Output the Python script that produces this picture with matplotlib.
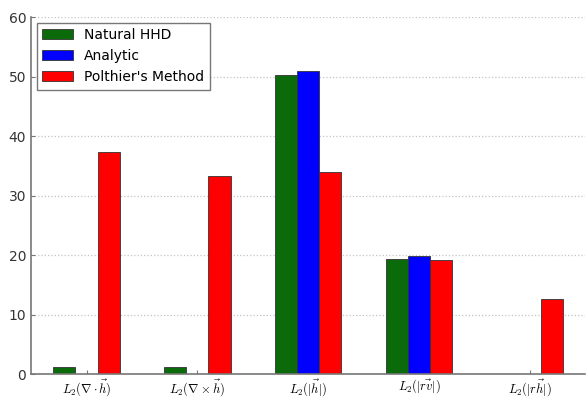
import numpy as np
import matplotlib
matplotlib.use('Agg')
import matplotlib.pyplot as plt

plt.rcParams['mathtext.fontset'] = 'cm'

# tick labels for the five error measures
labels = [r'$L_2(\nabla\cdot\vec{h})$', r'$L_2(\nabla\times\vec{h})$',
          r'$L_2(|\vec{h}|)$', r'$L_2(|\vec{rv}|)$', r'$L_2(|r\vec{h}|)$']

natural_hhd = [1.2, 1.2, 50.2, 19.3, 0.0]
analytic = [0.0, 0.0, 50.9, 19.8, 0.0]
polthier = [37.4, 33.3, 34.0, 19.2, 12.6]

x = np.arange(len(labels))
w = 0.2

fig = plt.figure(figsize=(5.88, 3.97), dpi=100)
ax = fig.add_axes([0.053, 0.057, 0.942, 0.9])

ax.bar(x - w, natural_hhd, w, color='#0b6b0b', edgecolor='#333333', linewidth=0.6, label='Natural HHD')
ax.bar(x, analytic, w, color=(0, 0, 1), edgecolor='#333333', linewidth=0.6, label='Analytic')
ax.bar(x + w, polthier, w, color=(1, 0, 0), edgecolor='#333333', linewidth=0.6, label="Polthier's Method")

ax.set_xlim(-0.5, 4.5)
ax.set_ylim(0, 60)
ax.set_yticks(range(0, 61, 10))
ax.set_xticks(x)
ax.set_xticklabels(labels, fontsize=9)
ax.tick_params(axis='y', labelsize=10, colors='#333333')
ax.tick_params(axis='x', pad=2)
ax.tick_params(direction='in', length=3, color='#777777')

ax.yaxis.grid(True, linestyle=':', color='#c4c4c4', linewidth=0.9)
ax.set_axisbelow(True)
for s in ['top', 'right']:
    ax.spines[s].set_visible(False)
for s in ['left', 'bottom']:
    ax.spines[s].set_color('#777777')
    ax.spines[s].set_linewidth(1.2)

leg = ax.legend(loc='upper left', fontsize=10, fancybox=False, edgecolor='#555555',
                handlelength=2.2, borderaxespad=0.4)
leg.get_frame().set_linewidth(1.0)

fig.savefig('out.png', dpi=100)
